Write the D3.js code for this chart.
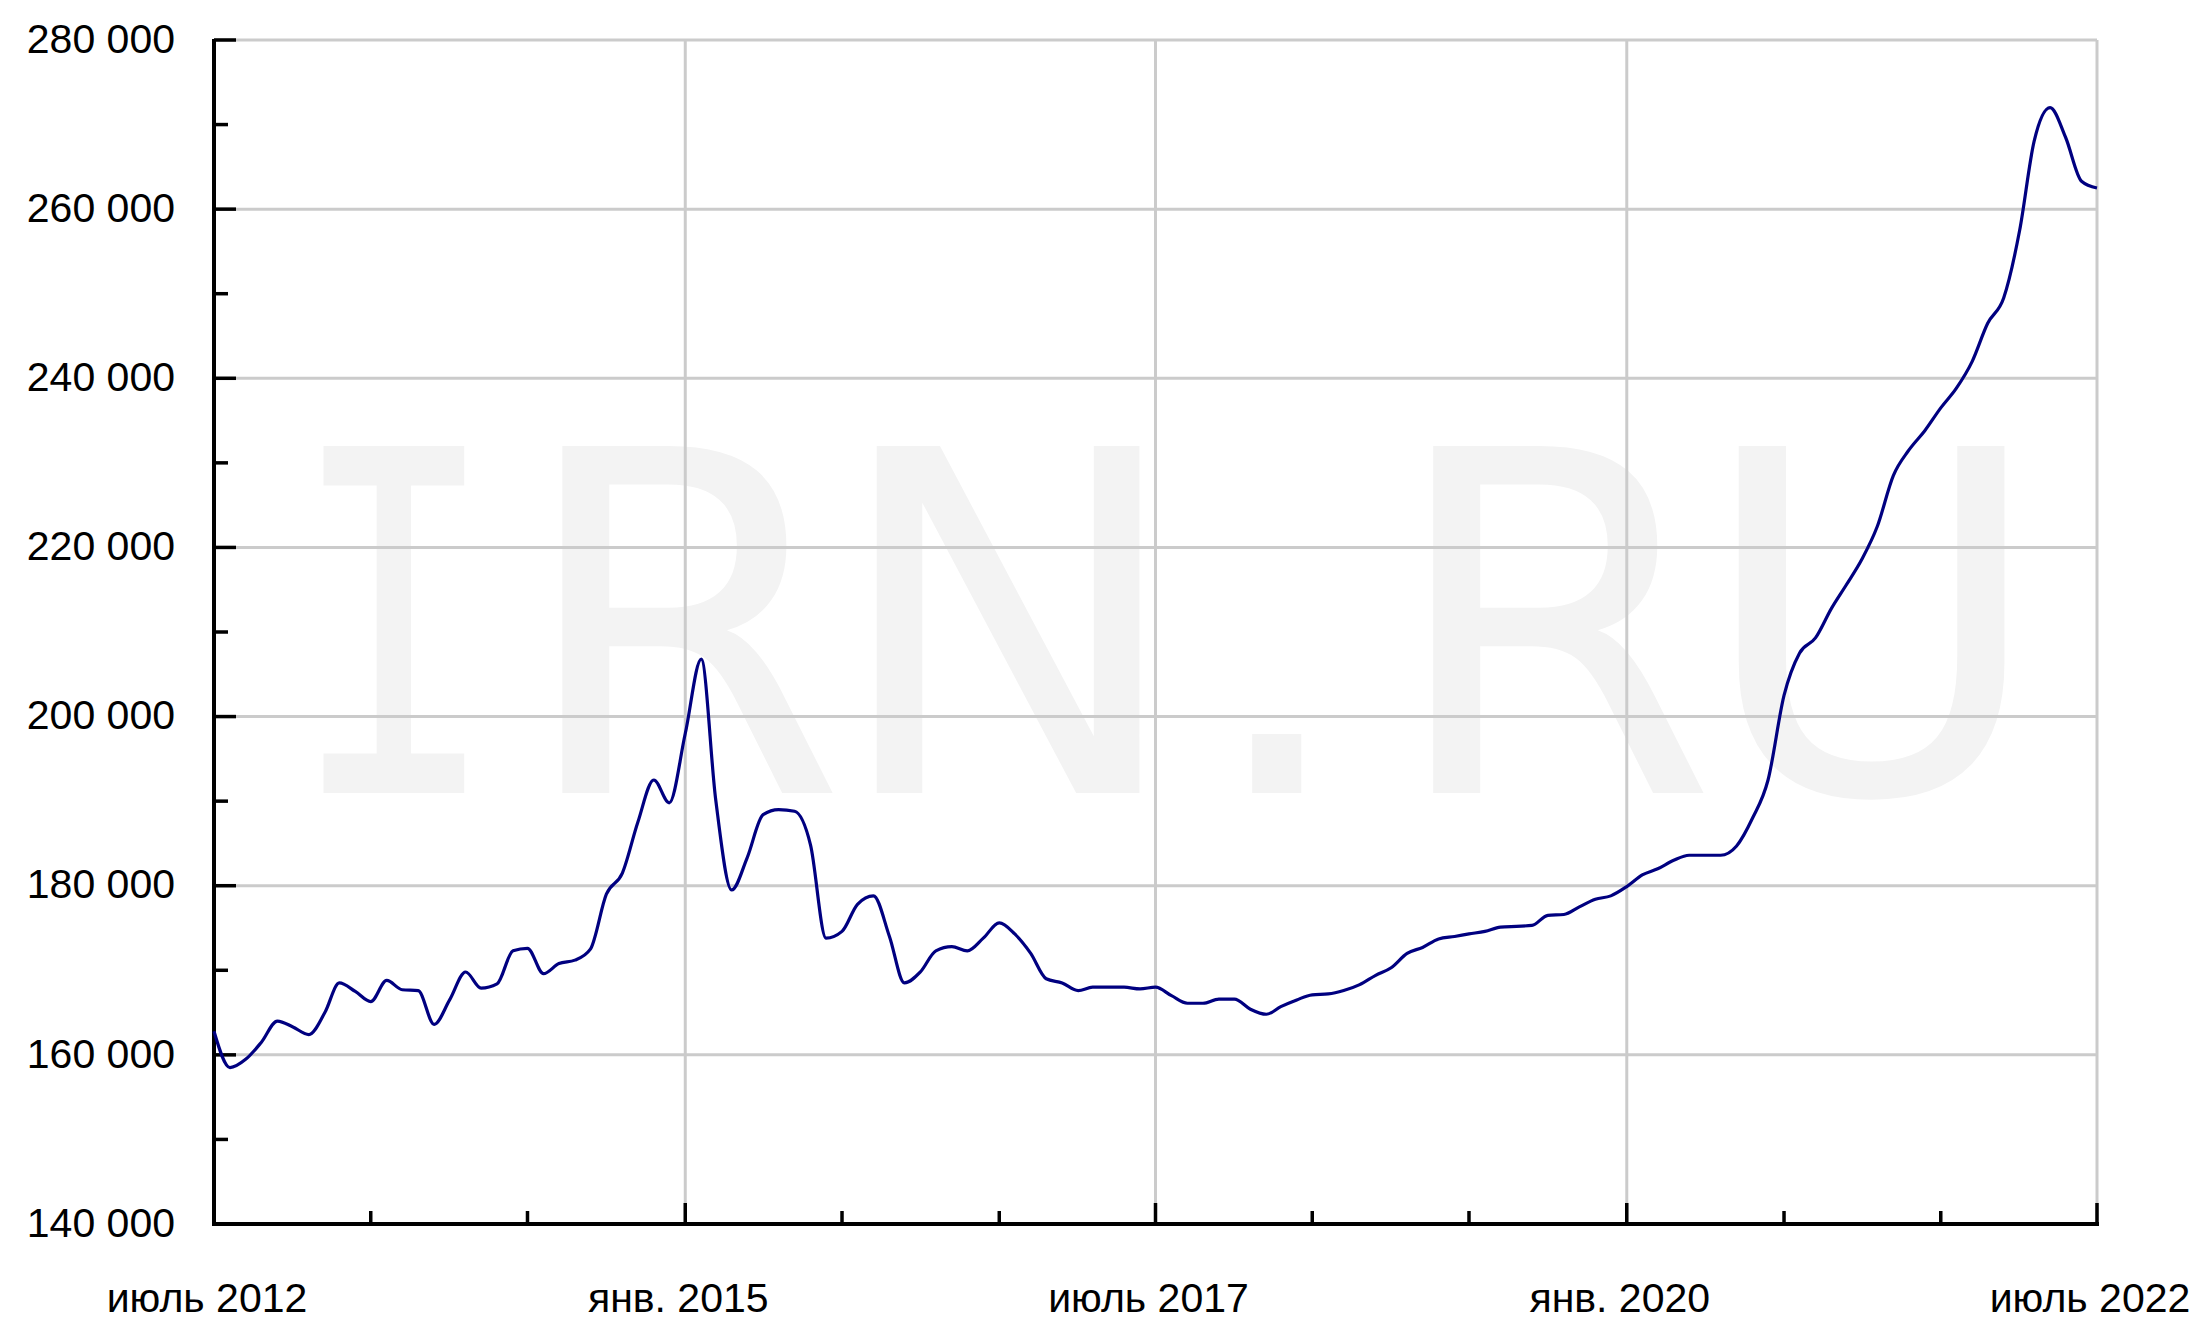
<!DOCTYPE html>
<html>
<head>
<meta charset="utf-8">
<script src="https://cdn.jsdelivr.net/npm/d3@7/dist/d3.min.js"></script>
<style>
  body { margin: 0; background: #fff; }
  svg { display: block; }
</style>
</head>
<body>
<svg id="chart" width="2192" height="1321"></svg>
<script>
// monthly average price, rub per sq.m, starting July 2012
var startMonth = new Date(2012, 6, 1)
var prices = [
  162800, 158500, 159500, 161500, 164000, 163300, 162400, 165000, 168500, 167500,
  166300, 168800, 167700, 167600, 163600, 166500, 169800, 167900, 168400, 172300,
  172600, 169600, 170800, 171200, 172500, 179000, 181500, 187500, 192500, 189800,
  198000, 206800, 190200, 179500, 183300, 188400, 189000, 188800, 184800, 173800,
  174600, 177800, 178800, 174000, 168500, 169800, 172300, 172800, 172300, 173800,
  175600, 174300, 172000, 169000, 168500, 167600, 168000, 168000, 168000, 167800,
  168000, 167000, 166100, 166100, 166600, 166600, 165400, 164800, 165700, 166500,
  167100, 167200, 167600, 168300, 169400, 170300, 172000, 172700, 173700, 174000,
  174300, 174600, 175100, 175200, 175300, 176500, 176600, 177500, 178400, 178800,
  179900, 181300, 182000, 183000, 183600, 183600, 183600, 184700, 188000, 192500,
  202500, 207500, 209300, 212800, 215500, 218600, 222500, 228500, 231500, 233800,
  236500, 238800, 242000, 246500, 249500, 257500, 268000, 272000, 268500, 263300,
  262500
]
var yMajorTicks = [140000, 160000, 180000, 200000, 220000, 240000, 260000, 280000]
var yMinorTicks = [150000, 170000, 190000, 210000, 230000, 250000, 270000]
var xTickStepMonths = 10
var xLabels = ['июль 2012', 'янв. 2015', 'июль 2017', 'янв. 2020', 'июль 2022']
var watermark = ['I', 'R', 'N', '.', 'R', 'U']

function drawChart(){
  var pLeft = 214, pRight = 2097, pTop = 40, pBottom = 1224

  var data = prices.map(function(v, i){
    return { date: d3.timeMonth.offset(startMonth, i), value: v }
  })
  var endMonth = data[data.length - 1].date

  var x = d3.scaleTime().domain([startMonth, endMonth]).range([pLeft, pRight])
  var y = d3.scaleLinear().domain([140000, 280000]).range([pBottom, pTop])

  var svg = d3.select('#chart')
  var fmt = d3.formatLocale({ decimal: ',', thousands: ' ', grouping: [3], currency: ['', ''] }).format(',d')

  // watermark, letter centres as share of plot width
  var wmCenters = [0.0956, 0.248, 0.4217, 0.5645, 0.7105, 0.8803]
  svg.append('g').selectAll('text')
    .data(watermark)
    .enter()
    .append('text')
    .attr('transform', function(d, i){
      var cx = pLeft + wmCenters[i] * (pRight - pLeft)
      // the serif I is narrower in the original mark
      return 'translate(' + cx + ',793)' + (d == 'I' ? ' scale(0.73,1)' : '')
    })
    .attr('text-anchor', 'middle')
    .style('font-family', function(d){ return d == 'I' ? 'DejaVu Sans Mono' : 'DejaVu Sans' })
    .style('font-size', '476px')
    .style('fill', '#f3f3f3')
    .text(function(d){ return d })

  // gridlines
  svg.append('g').selectAll('line')
    .data(yMajorTicks.slice(1))
    .enter()
    .append('line')
    .attr('x1', pLeft).attr('x2', pRight)
    .attr('y1', function(d){ return y(d) }).attr('y2', function(d){ return y(d) })
    .style('stroke', '#cbcbcb')
    .style('stroke-width', 3)

  var labelDates = d3.range(0, 121, 30).map(function(i){ return d3.timeMonth.offset(startMonth, i) })
  svg.append('g').selectAll('line')
    .data(labelDates.slice(1))
    .enter()
    .append('line')
    .attr('x1', function(d){ return x(d) }).attr('x2', function(d){ return x(d) })
    .attr('y1', pTop).attr('y2', pBottom)
    .style('stroke', '#cbcbcb')
    .style('stroke-width', 3)

  // y axis
  var yAxis = svg.append('g').attr('transform', 'translate(' + pLeft + ',0)')
  yAxis.append('line')
    .attr('x1', 0).attr('x2', 0).attr('y1', pTop - 1).attr('y2', pBottom + 2)
    .style('stroke', '#000').style('stroke-width', 4)
  yAxis.selectAll('.maj')
    .data(yMajorTicks)
    .enter()
    .append('line')
    .attr('class', 'maj')
    .attr('x1', 0).attr('x2', 22)
    .attr('y1', function(d){ return y(d) }).attr('y2', function(d){ return y(d) })
    .style('stroke', '#000').style('stroke-width', 3.5)
  yAxis.selectAll('.min')
    .data(yMinorTicks)
    .enter()
    .append('line')
    .attr('class', 'min')
    .attr('x1', 0).attr('x2', 14)
    .attr('y1', function(d){ return y(d) }).attr('y2', function(d){ return y(d) })
    .style('stroke', '#000').style('stroke-width', 3.5)
  yAxis.selectAll('text')
    .data(yMajorTicks)
    .enter()
    .append('text')
    .attr('x', -39)
    .attr('y', function(d){ return y(d) - 2 })
    .attr('dy', '0.36em')
    .attr('text-anchor', 'end')
    .style('font-family', 'Liberation Sans, Arial, sans-serif')
    .style('font-size', '41px')
    .style('fill', '#000')
    .text(function(d){ return fmt(d) })

  // x axis
  var tickDates = d3.range(0, 121, xTickStepMonths).map(function(i){ return d3.timeMonth.offset(startMonth, i) })
  var xAxis = svg.append('g').attr('transform', 'translate(0,' + pBottom + ')')
  xAxis.append('line')
    .attr('x1', pLeft - 2).attr('x2', pRight + 2).attr('y1', 0).attr('y2', 0)
    .style('stroke', '#000').style('stroke-width', 4)
  xAxis.selectAll('.tick')
    .data(tickDates)
    .enter()
    .append('line')
    .attr('class', 'tick')
    .attr('x1', function(d){ return x(d) }).attr('x2', function(d){ return x(d) })
    .attr('y1', 0)
    .attr('y2', function(d, i){ return i % 3 == 0 ? -21 : -13 })
    .style('stroke', '#000').style('stroke-width', 3.5)
  xAxis.selectAll('text')
    .data(labelDates)
    .enter()
    .append('text')
    .attr('x', function(d){ return x(d) - 7 })
    .attr('y', 88)
    .attr('text-anchor', 'middle')
    .style('font-family', 'Liberation Sans, Arial, sans-serif')
    .style('font-size', '41px')
    .style('fill', '#000')
    .text(function(d, i){ return xLabels[i] })

  // price line
  var line = d3.line()
    .x(function(d){ return x(d.date) })
    .y(function(d){ return y(d.value) })
    .curve(d3.curveMonotoneX)

  svg.append('path')
    .datum(data)
    .attr('d', line)
    .style('fill', 'none')
    .style('stroke', '#000080')
    .style('stroke-width', 3.2)
    .style('stroke-linejoin', 'round')
}

drawChart()
</script>
</body>
</html>
